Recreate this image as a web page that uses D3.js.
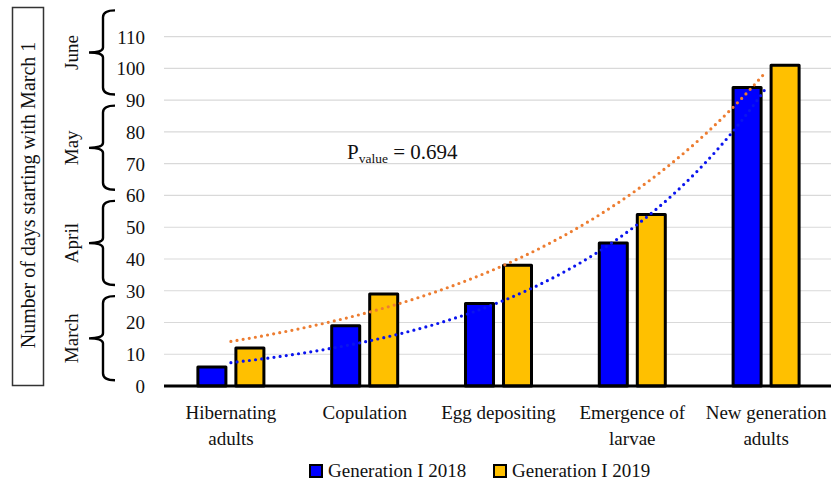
<!DOCTYPE html>
<html>
<head>
<meta charset="utf-8">
<script src="https://cdn.jsdelivr.net/npm/d3@7/dist/d3.min.js"></script>
<style>
  html, body { margin: 0; padding: 0; background: #fff; }
  svg text { font-family: "Liberation Serif", "Times New Roman", serif; fill: #111; }
</style>
</head>
<body>
<svg id="chart" width="831" height="484"></svg>
<script>
// Development stages (two-line labels) and day counts from March 1
const categories = ["Hibernating adults", "Copulation", "Egg depositing", "Emergence of larvae", "New generation adults"];
const categoryLines = [["Hibernating", "adults"], ["Copulation"], ["Egg depositing"], ["Emergence of", "larvae"], ["New generation", "adults"]];
const seriesNames = ["Generation I 2018", "Generation I 2019"];
const gen2018 = [6, 19, 26, 45, 94];
const gen2019 = [12, 29, 38, 54, 101];
const yTicks = [0, 10, 20, 30, 40, 50, 60, 70, 80, 90, 100, 110];
const months = ["March", "April", "May", "June"];
const monthStarts = [0, 30, 60, 90];
const pValueText = "0.694";

const colors = { "Generation I 2018": "#0000ff", "Generation I 2019": "#ffc000" };
const trendColors = { "Generation I 2018": "#0a14ee", "Generation I 2019": "#ed7d31" };

const svg = d3.select("#chart");

const y = d3.scaleLinear().domain([0, 120]).range([386, 4.94]);
const x = d3.scaleBand().domain(categories).range([164, 833]).padding(0);
const groupW = 69;
const x1 = d3.scaleBand().domain(seriesNames).range([0, groupW]).paddingInner(0.184);

// gridlines
svg.append("g").selectAll("line").data(yTicks.filter(d => d > 0)).join("line")
  .attr("x1", 164).attr("x2", 831)
  .attr("y1", d => y(d)).attr("y2", d => y(d))
  .attr("stroke", "#d9d9d9").attr("stroke-width", 1.2);

// y tick labels
const yAxis = d3.axisLeft(y).tickValues(yTicks).tickSize(0).tickPadding(0);
const gy = svg.append("g").attr("transform", "translate(145,0)").call(yAxis);
gy.select(".domain").remove();
gy.selectAll("text").attr("font-size", 19).attr("font-family", "Liberation Serif").attr("fill", "#111").attr("dy", "0.34em");

// bars
const data = categories.map((c, i) => ({ cat: c, values: [
  { s: seriesNames[0], v: gen2018[i] }, { s: seriesNames[1], v: gen2019[i] }] }));

const groups = svg.append("g").selectAll("g").data(data).join("g")
  .attr("transform", d => `translate(${x(d.cat) + x.bandwidth() / 2 - groupW / 2},0)`);
groups.selectAll("rect").data(d => d.values).join("rect")
  .attr("x", d => x1(d.s) + 1.5)
  .attr("width", x1.bandwidth() - 3)
  .attr("y", d => y(d.v))
  .attr("height", d => y(0) - y(d.v))
  .attr("fill", d => colors[d.s])
  .attr("stroke", "#000").attr("stroke-width", 3)
  .attr("stroke-linejoin", "round");

// baseline
svg.append("line").attr("x1", 164).attr("x2", 831).attr("y1", y(0)).attr("y2", y(0))
  .attr("stroke", "#000").attr("stroke-width", 3);

// exponential trendlines (least squares on ln y)
function expFit(vals) {
  const xs = vals.map((_, i) => i + 1);
  const ls = vals.map(v => Math.log(v));
  const mx = d3.mean(xs), ml = d3.mean(ls);
  const b = d3.sum(xs.map((xi, i) => (xi - mx) * (ls[i] - ml))) / d3.sum(xs.map(xi => (xi - mx) ** 2));
  const a = Math.exp(ml - b * mx);
  return t => a * Math.exp(b * t);
}
const step = x.step();
const c0 = x(categories[0]) + x.bandwidth() / 2;
const tx = t => c0 + (t - 1) * step;
const ts = d3.range(1, 5.0001, 0.05);

[[seriesNames[1], gen2019], [seriesNames[0], gen2018]].forEach(([name, vals]) => {
  const f = expFit(vals);
  svg.append("path")
    .attr("d", d3.line().x(t => tx(t)).y(t => y(f(t)))(ts))
    .attr("fill", "none")
    .attr("stroke", trendColors[name])
    .attr("stroke-width", 3.2)
    .attr("stroke-linecap", "round")
    .attr("stroke-dasharray", "0 6.2");
});

// category labels
const catG = svg.append("g").selectAll("text").data(categories).join("text")
  .attr("text-anchor", "middle")
  .attr("font-size", 19)
  .attr("x", d => x(d) + x.bandwidth() / 2)
  .attr("y", 419);
catG.each(function(d, i) {
  const t = d3.select(this);
  categoryLines[i].forEach((ln, j) => {
    t.append("tspan").attr("x", x(d) + x.bandwidth() / 2).attr("dy", j === 0 ? 0 : 25.5).text(ln);
  });
});

// month braces
const braceSpine = 103, braceHook = 115, braceTip = 89;
months.forEach((m, i) => {
  const yT = y(monthStarts[i] + 28.3), yB = y(monthStarts[i] + 1.8), yM = y(monthStarts[i] + 15);
  const p = `M${braceHook},${yT} Q${braceSpine},${yT} ${braceSpine},${yT + 7}
             L${braceSpine},${yM - 5} Q${braceSpine},${yM} ${braceTip},${yM}
             Q${braceSpine},${yM} ${braceSpine},${yM + 5}
             L${braceSpine},${yB - 7} Q${braceSpine},${yB} ${braceHook},${yB}`;
  svg.append("path").attr("d", p).attr("fill", "none").attr("stroke", "#000").attr("stroke-width", 2.4);
  svg.append("text")
    .attr("transform", `translate(78,${yM}) rotate(-90)`)
    .attr("text-anchor", "middle")
    .attr("font-size", 19)
    .text(m);
});

// y-axis title in a box
svg.append("rect").attr("x", 12.5).attr("y", 7.5).attr("width", 31).attr("height", 378)
  .attr("fill", "none").attr("stroke", "#333").attr("stroke-width", 1.5);
svg.append("text")
  .attr("transform", "translate(35,195) rotate(-90)")
  .attr("text-anchor", "middle")
  .attr("font-size", 20)
  .text("Number of days starting with March 1");

// p-value annotation
const pv = svg.append("text").attr("x", 347).attr("y", 159).attr("font-size", 21);
pv.append("tspan").text("P");
pv.append("tspan").attr("font-size", 13.5).attr("dy", 4).text("value");
pv.append("tspan").attr("dy", -4).text(" = " + pValueText);

// legend
const legend = svg.append("g");
const legX = [310, 494];
seriesNames.forEach((s, i) => {
  legend.append("rect").attr("x", legX[i]).attr("y", 465).attr("width", 12).attr("height", 12)
    .attr("fill", colors[s]).attr("stroke", "#000").attr("stroke-width", 2);
  legend.append("text").attr("x", legX[i] + 18).attr("y", 477).attr("font-size", 19).text(s);
});
</script>
</body>
</html>
